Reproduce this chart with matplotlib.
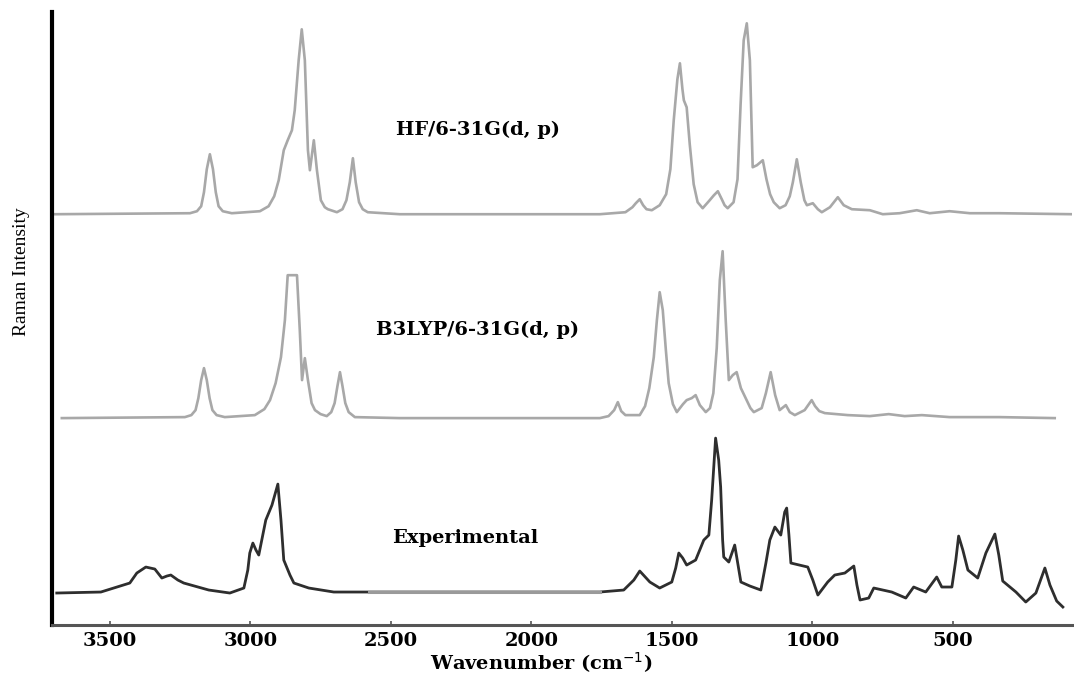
import matplotlib
matplotlib.use("Agg")
import matplotlib.pyplot as plt

# --- data (wavenumber in cm-1, intensity above each baseline) ---
hf_wn = [3696, 3215, 3190, 3175, 3165, 3155, 3144, 3133, 3123, 3113, 3098, 3066, 2966,
         2935, 2915, 2899, 2881, 2867, 2852, 2842, 2828, 2817, 2806, 2795, 2788, 2774,
         2763, 2749, 2735, 2724, 2692, 2672, 2658, 2646, 2635, 2625, 2613, 2600, 2582,
         2468, 1756, 1665, 1640, 1628, 1614, 1602, 1590, 1571, 1543, 1520, 1505, 1493,
         1480, 1471, 1462, 1457, 1447, 1436, 1422, 1408, 1390, 1365, 1350, 1336, 1322,
         1312, 1301, 1280, 1266, 1255, 1244, 1233, 1222, 1212, 1197, 1176, 1163, 1150,
         1137, 1116, 1095, 1080, 1069, 1055, 1041, 1028, 1019, 998, 980, 966, 937, 909,
         888, 859, 795, 749, 689, 628, 582, 511, 439, 333, 73]
hf_int = [0, 1, 3, 8, 22, 45, 60, 45, 22, 8, 3, 1, 3,
          8, 18, 34, 64, 74, 84, 104, 154, 185, 154, 64, 44, 74,
          44, 14, 7, 5, 2, 5, 14, 32, 56, 32, 12, 5, 2,
          0, 0, 2, 7, 11, 15, 9, 5, 4, 9, 20, 45, 94,
          135, 151, 125, 114, 107, 70, 30, 12, 6, 14, 19, 23, 15,
          9, 6, 12, 35, 110, 174, 191, 154, 47, 49, 54, 35, 20,
          12, 6, 9, 18, 32, 55, 32, 14, 9, 11, 5, 2, 7, 17,
          9, 5, 4, 0, 1, 4, 1, 3, 1, 1, 0]

b3_wn = [3671, 3233, 3210, 3195, 3185, 3175, 3165, 3155, 3145, 3135, 3120, 3091, 2984,
         2950, 2930, 2910, 2891, 2877, 2867, 2834, 2824, 2816, 2806, 2795, 2782, 2770,
         2750, 2728, 2712, 2700, 2690, 2681, 2672, 2662, 2650, 2628, 2468, 1756, 1725,
         1705, 1692, 1680, 1665, 1614, 1595, 1580, 1564, 1553, 1543, 1532, 1521, 1511,
         1496, 1482, 1460, 1447, 1429, 1415, 1400, 1379, 1364, 1352, 1340, 1329, 1319,
         1308, 1297, 1283, 1269, 1254, 1237, 1220, 1208, 1180, 1165, 1148, 1132, 1116,
         1094, 1080, 1062, 1027, 1012, 1002, 990, 975, 955, 873, 795, 728, 671, 610,
         511, 333, 137]
b3_int = [0, 1, 3, 8, 20, 38, 50, 38, 20, 8, 3, 1, 3,
          9, 18, 35, 61, 98, 143, 143, 88, 38, 60, 38, 15, 8,
          4, 2, 6, 15, 32, 46, 32, 15, 6, 1, 0, 0, 2,
          8, 16, 7, 3, 3, 12, 30, 61, 98, 126, 108, 68, 35,
          14, 6, 14, 18, 20, 23, 13, 6, 10, 25, 70, 138, 167,
          98, 38, 43, 46, 30, 20, 10, 6, 10, 25, 46, 23, 8,
          13, 6, 3, 8, 14, 18, 12, 7, 5, 3, 2, 4, 2, 3,
          1, 1, 0]

exp_wn = [3689, 3532, 3429, 3404, 3372, 3340, 3315, 3297, 3283, 3258, 3237, 3148, 3073,
          3023, 3009, 3002, 2991, 2980, 2970, 2945, 2923, 2902, 2891, 2881, 2859, 2845,
          2792, 2703, 2578, 1756, 1671, 1635, 1614, 1578, 1543, 1500, 1486, 1475, 1461,
          1447, 1415, 1386, 1368, 1358, 1344, 1333, 1326, 1319, 1315, 1297, 1276, 1254,
          1222, 1183, 1165, 1151, 1133, 1112, 1098, 1091, 1083, 1076, 1016, 998, 980,
          945, 920, 884, 852, 841, 830, 799, 781, 717, 667, 639, 596, 557, 539, 503,
          489, 479, 464, 446, 411, 382, 350, 336, 322, 275, 240, 204, 172, 154, 130, 108]
exp_int = [-1, 0, 9, 19, 25, 23, 14, 16, 17, 12, 9, 2, -1,
           4, 22, 39, 49, 42, 37, 72, 87, 108, 72, 32, 17, 9,
           4, 0, 0, 0, 2, 12, 21, 10, 4, 10, 24, 39, 34,
           27, 32, 52, 57, 92, 154, 132, 105, 52, 35, 30, 47, 10,
           6, 2, 29, 52, 65, 57, 80, 84, 57, 29, 25, 12, -3,
           10, 17, 19, 26, 7, -8, -6, 4, 0, -6, 5, 0, 15, 5, 5,
           32, 56, 42, 22, 14, 39, 58, 37, 11, 0, -10, -1, 24, 7, -9, -15]

labels = ["HF/6-31G(d, p)", "B3LYP/6-31G(d, p)", "Experimental"]
xticks = [3500, 3000, 2500, 2000, 1500, 1000, 500]

# vertical stacking of the three traces
HF_OFFSET = 378
B3_OFFSET = 174
EXP_OFFSET = 0

fig = plt.figure(figsize=(10.74, 6.77), dpi=100)
ax = fig.add_axes([0.0484, 0.0768, 0.9496, 0.905])

ax.plot(hf_wn, [v + HF_OFFSET for v in hf_int], color="#a8a8a8", lw=1.9)
ax.plot(b3_wn, [v + B3_OFFSET for v in b3_int], color="#a8a8a8", lw=1.9)
exp_y = [v + EXP_OFFSET for v in exp_int]
ax.plot(exp_wn, exp_y, color="#2e2e2e", lw=2.0)
# the flat stretch of the measured trace is lighter in the original
i0, i1 = exp_wn.index(2578), exp_wn.index(1756)
ax.plot(exp_wn[i0:i1 + 1], exp_y[i0:i1 + 1], color="#9a9a9a", lw=2.2)

ax.set_xlim(3706, 76)
ax.set_ylim(-33, 580)

txt = dict(fontsize=14, fontweight="bold", family="DejaVu Serif", ha="center", va="center")
ax.text(2190, 462, labels[0], **txt)
ax.text(2190, 262, labels[1], **txt)
ax.text(2237, 54, labels[2], **txt)

ax.set_xticks(xticks)
ax.set_xticklabels([str(t) for t in xticks], fontsize=14, fontweight="bold",
                   family="DejaVu Serif")
ax.tick_params(axis="x", direction="in", length=3, width=1.2, pad=5, color="#555555")
ax.set_yticks([])

ax.set_xlabel("Wavenumber (cm$^{-1}$)", fontsize=14, fontweight="bold", family="DejaVu Serif")
ax.xaxis.set_label_coords(0.48, -0.042)
ax.set_ylabel("Raman Intensity", fontsize=14, family="Liberation Serif")
ax.yaxis.set_label_coords(-0.022, 0.576)

for side in ["top", "right"]:
    ax.spines[side].set_visible(False)
ax.spines["left"].set_linewidth(3.0)
ax.spines["left"].set_color("black")
ax.spines["bottom"].set_linewidth(2.2)
ax.spines["bottom"].set_color("#555555")

fig.savefig("out.png", dpi=100)
